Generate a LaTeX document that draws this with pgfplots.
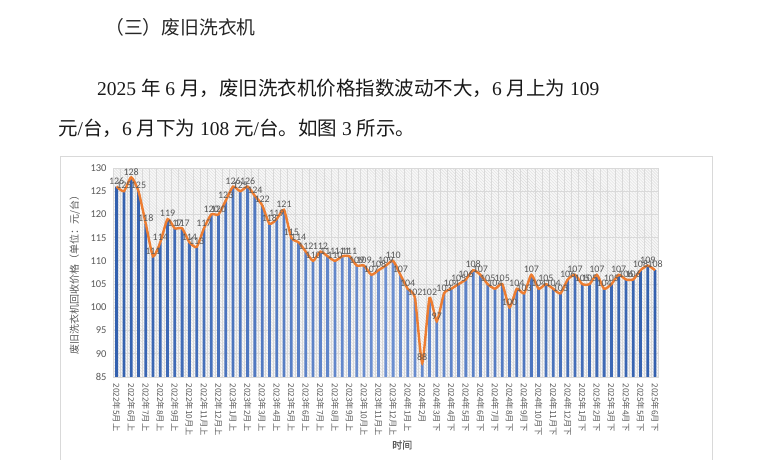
\documentclass[border=0pt]{standalone}
\usepackage{pgfplots}
\pgfplotsset{compat=1.18}
\usepackage{pgfplotstable}
\usetikzlibrary{patterns}
\usepackage{fontspec}
\setmainfont{Liberation Serif}
\newfontfamily\cjk{Noto Sans CJK SC}
\newfontfamily\cjkb[FakeBold=1.2]{Noto Sans CJK SC}
\newfontfamily\calfont{Carlito}
\definecolor{bardark}{HTML}{3360AE}
\definecolor{barlight}{HTML}{6D90D2}
\definecolor{lineorange}{HTML}{ED7D31}
\definecolor{labgray}{HTML}{595959}
\definecolor{gridgray}{HTML}{D9D9D9}
\definecolor{hatchbg}{HTML}{F8F8F8}
\definecolor{hatch}{HTML}{DDDDDD}
\definecolor{framegray}{HTML}{D9D9D9}

\pgfplotstableread{
x y
1 126
2 125
3 128
4 125
5 118
6 111
7 114
8 119
9 117
10 117
11 114
12 113
13 117
14 120
15 120
16 123
17 126
18 125
19 126
20 124
21 122
22 118
23 119
24 121
25 115
26 114
27 112
28 110
29 112
30 111
31 110
32 111
33 111
34 109
35 109
36 107
37 108
38 109
39 110
40 107
41 104
42 102
43 88
44 102
45 97
46 103
47 104
48 105
49 106
50 108
51 107
52 105
53 104
54 105
55 100
56 104
57 103
58 107
59 104
60 105
61 104
62 103
63 106
64 107
65 105
66 105
67 107
68 104
69 105
70 107
71 106
72 106
73 108
74 109
75 108
}\datatable

\begin{document}
\begin{tikzpicture}
\useasboundingbox (0bp,0bp) rectangle (764bp,460bp);
% text above the chart
\node[anchor=west,inner sep=0,text=black!85] at (105bp,433bp) {\cjk\fontsize{18.8bp}{20bp}\selectfont （三）废旧洗衣机};
\node[anchor=west,inner sep=0,text=black!90] at (97bp,372bp) {\fontsize{19.5bp}{21bp}\selectfont 2025 {\cjk 年} 6 {\cjk 月，废旧洗衣机价格指数波动不大，}6 {\cjk 月上为} 109};
\node[anchor=west,inner sep=0,text=black!90] at (58bp,332bp) {\fontsize{19.5bp}{21bp}\selectfont {\cjk 元}/{\cjk 台，}6 {\cjk 月下为} 108 {\cjk 元}/{\cjk 台。如图} 3 {\cjk 所示。}};
% chart frame
\draw[color=framegray,line width=1bp] (60bp,303bp) rectangle (712bp,-10bp);

\begin{axis}[
  at={(113bp,83bp)}, anchor=south west,
  scale only axis, width=545.7bp, height=209bp,
  xmin=0.5, xmax=75.5, ymin=85, ymax=130,
  enlargelimits=false,
  clip mode=individual,
  /pgf/number format/assume math mode=true,
  ytick={85,90,...,130},
  xtick={1,3,...,75},
  xticklabels={2022年5月上,2022年6月上,2022年7月上,2022年8月上,2022年9月上,2022年10月上,2022年11月上,2022年12月上,
    2023年1月上,2023年2月上,2023年3月上,2023年4月上,2023年5月上,2023年6月上,2023年7月上,2023年8月上,2023年9月上,2023年10月上,2023年11月上,2023年12月上,
    2024年1月上,2024年2月,
    2024年3月下,2024年4月下,2024年5月下,2024年6月下,2024年7月下,2024年8月下,2024年9月下,2024年10月下,2024年11月下,2024年12月下,
    2025年1月下,2025年2月下,2025年3月下,2025年4月下,2025年5月下,2025年6月下},
  minor xtick={0.5,1.5,...,75.5},
  xminorgrids, ymajorgrids,
  minor grid style={color=gridgray,line width=0.6bp},
  major grid style={color=gridgray,line width=0.8bp},
  axis line style={draw=none},
  tick style={draw=none},
  major tick length=0pt, minor tick length=0pt,
  axis background/.style={fill=hatchbg,postaction={pattern=north west lines,pattern color=hatch}},
  yticklabel style={font=\calfont\fontsize{10.5bp}{12bp}\selectfont,text=labgray,xshift=-3bp},
  xticklabel style={font=\cjk\fontsize{8.3bp}{9bp}\selectfont,text=labgray,rotate=-90,anchor=west,xshift=3bp},
  ylabel={废旧洗衣机回收价格（单位：元/台）},
  ylabel style={font=\cjk\fontsize{10bp}{12bp}\selectfont,text=labgray,at={(axis description cs:-0.07,0.5)},anchor=center},
  xlabel={时间},
  xlabel style={font=\cjkb\fontsize{10bp}{12bp}\selectfont,text=labgray,at={(axis description cs:0.53,-0.325)},anchor=center},
]
\addplot[ybar,bar width=2.8bp,draw=none,left color=bardark,right color=bardark,middle color=barlight]
  table[x=x,y=y] {\datatable};
\addplot[smooth,tension=0.35,color=lineorange,line width=2.4bp,mark=none,
  nodes near coords,
  every node near coord/.append style={font=\calfont\fontsize{10bp}{12bp}\selectfont,text=labgray,anchor=south,inner sep=1bp}]
  table[x=x,y=y] {\datatable};
\end{axis}
\end{tikzpicture}
\end{document}
